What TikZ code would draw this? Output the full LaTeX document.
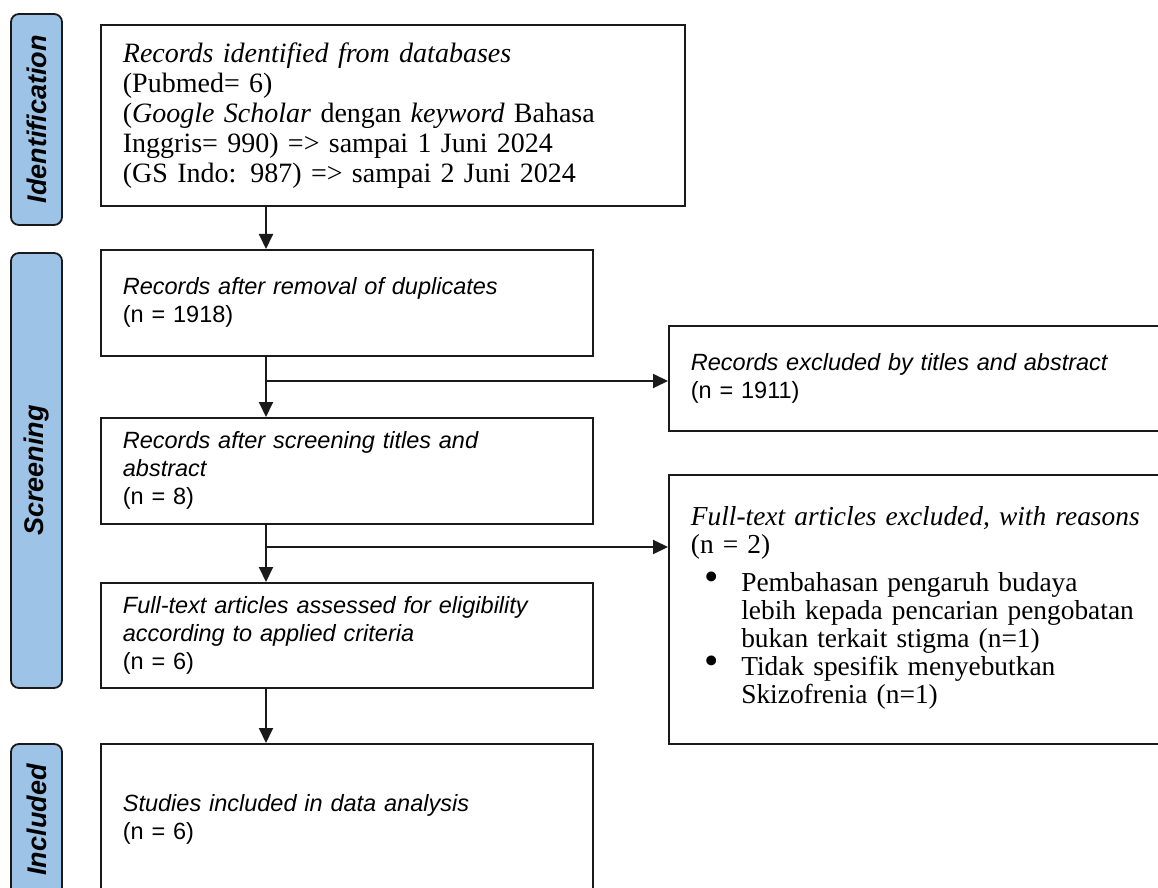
\documentclass[tikz,border=0pt]{standalone}
\usepackage{fontspec}
\setmainfont{Liberation Serif}
\setsansfont{Liberation Sans}
\usetikzlibrary{arrows.meta}
\definecolor{cstage}{HTML}{9DC3E6}
\definecolor{cline}{HTML}{1A1A1A}
\newcommand{\listdot}{\raisebox{0.1ex}{\scalebox{1.5}{\textbullet}}}
\tikzset{
  flowbox/.style={draw=cline, line width=0.9pt, fill=white, anchor=north west,
    align=left, inner xsep=11pt, inner ysep=0pt,
    font=\sffamily\fontsize{11.75}{14}\selectfont},
  serifbox/.style={flowbox, font=\rmfamily\fontsize{14}{15}\selectfont},
  stagebox/.style={draw=cline, line width=0.9pt, fill=cstage, rounded corners=4pt,
    rotate=90, minimum height=25.5pt, inner sep=0pt,
    font=\sffamily\bfseries\itshape\fontsize{13.5}{15}\selectfont},
  flowarrow/.style={-{Triangle[length=7.5pt,width=7pt]}, line width=1pt, color=cline}
}

\begin{document}
\begin{tikzpicture}[x=0.5pt, y=-0.5pt]
  \path[use as bounding box, fill=white] (0,0) rectangle (1158,888);

  % stage labels
  \node[stagebox, minimum width=105.5pt] (stIdent) at (36.5,119.5) {Identification};
  \node[stagebox, minimum width=217.5pt] (stScreen) at (36.5,470.5) {Screening};
  \node[stagebox, minimum width=76pt] (stIncl) at (36.5,820) {Included};

  % main column
  \node[serifbox, text width=270pt, minimum height=90.5pt] (idn) at (100,24)
    {\textit{Records identified from databases}\\
     (Pubmed= 6)\\
     (\textit{Google Scholar} dengan \textit{keyword} Bahasa\\
     Inggris= 990) => sampai 1 Juni 2024\\
     (GS Indo: 987) => sampai 2 Juni 2024};
  \node[flowbox, text width=224pt, minimum height=53pt] (dup) at (100,249)
    {\textit{Records after removal of duplicates}\\(n = 1918)};
  \node[flowbox, text width=224pt, minimum height=53pt] (scr) at (100,417)
    {\textit{Records after screening titles and}\\\textit{abstract}\\(n = 8)};
  \node[flowbox, text width=224pt, minimum height=52.5pt] (elig) at (100,582)
    {\textit{Full-text articles assessed for eligibility}\\
     \textit{according to applied criteria}\\(n = 6)};
  \node[flowbox, text width=224pt, minimum height=76pt] (incl) at (100,743)
    {\textit{Studies included in data analysis}\\(n = 6)};

  % exclusion column
  \node[flowbox, text width=234pt, minimum height=52.5pt] (exA) at (668,325)
    {\textit{Records excluded by titles and abstract}\\(n = 1911)};
  \node[serifbox, font=\rmfamily\fontsize{13.7}{14}\selectfont,
    text width=234pt, minimum height=134.5pt] (exB) at (668,474)
    {\textit{Full-text articles excluded, with reasons}\\
     (n = 2)\\[5pt]
     \begin{tabular}[t]{@{\hspace{7pt}}l@{\hspace{11pt}}l@{}}
       \listdot & Pembahasan pengaruh budaya\\
                & lebih kepada pencarian pengobatan\\
                & bukan terkait stigma (n=1)\\
       \listdot & Tidak spesifik menyebutkan\\
                & Skizofrenia (n=1)
     \end{tabular}};

  % connectors
  \coordinate (trunk) at (266,0);
  \coordinate (br1) at (266,381);
  \coordinate (br2) at (266,547);
  \draw[flowarrow] (idn.south -| trunk) -- (dup.north -| trunk);
  \draw[flowarrow] (dup.south -| trunk) -- (scr.north -| trunk);
  \draw[flowarrow] (br1) -- (br1 -| exA.west);
  \draw[flowarrow] (scr.south -| trunk) -- (elig.north -| trunk);
  \draw[flowarrow] (br2) -- (br2 -| exB.west);
  \draw[flowarrow] (elig.south -| trunk) -- (incl.north -| trunk);
\end{tikzpicture}
\end{document}
